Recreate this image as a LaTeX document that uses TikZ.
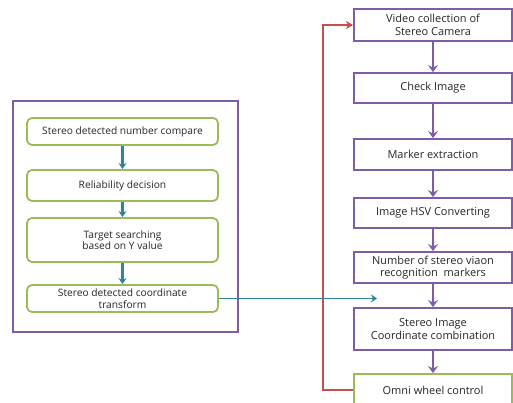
\documentclass[tikz,border=0pt]{standalone}
\usepackage{fontspec}
\setmainfont{Open Sans}
\usetikzlibrary{arrows.meta,positioning}
\definecolor{vio}{HTML}{7E5CA8}
\definecolor{lgreen}{HTML}{9BBB59}
\definecolor{tealb}{HTML}{31849B}
\definecolor{redl}{HTML}{C4504D}

\begin{document}
\begin{tikzpicture}[x=1pt, y=-1pt,
  pb/.style={draw=vio, line width=1.8pt, minimum width=158pt, align=center, inner sep=1pt, text=black!85, font=\fontsize{11}{12.5}\selectfont},
  gb/.style={draw=lgreen, line width=1.8pt, rounded corners=5pt, minimum width=191pt, align=center, inner sep=1pt, text=black!85, font=\fontsize{10.2}{11.5}\selectfont},
  parr/.style={-{Stealth[length=7pt, width=10pt, inset=2.5pt]}, draw=vio, line width=2pt},
  tarr/.style={-{Stealth[length=6pt, width=8pt]}, draw=tealb, line width=2.2pt},
  rarr/.style={-{Stealth[length=7pt, width=8pt, inset=2pt]}, draw=redl, line width=1.8pt}
]
\useasboundingbox (0,0) rectangle (513,402);
\clip (0,0) rectangle (513,402);

% left panel
\node[draw=vio, line width=1.8pt, minimum width=225pt, minimum height=231pt] (panel) at (125.5,216.5) {};
\node[gb, minimum height=27pt] (cmp) at (122.5,131.5) {Stereo detected number compare};
\node[gb, minimum height=31pt] (rel) at (122.5,185.5) {Reliability decision};
\node[gb, minimum height=44pt] (tgt) at (122.5,240) {Target searching\\based on Y value};
\node[gb, minimum height=27pt] (trf) at (122.5,298.5) {Stereo detected coordinate\\transform};

% right column
\node[pb, minimum height=32pt] (video) at (433,25) {Video collection of\\Stereo Camera};
\node[pb, minimum height=30pt] (check) at (433,88) {Check Image};
\node[pb, minimum height=31pt] (marker) at (433,154.5) {Marker extraction};
\node[pb, minimum height=30pt] (hsv) at (433,213) {Image HSV Converting};
\node[pb, minimum height=31pt] (num) at (433,267.5) {Number of stereo viaon\\recognition\ \ markers};
\node[pb, minimum height=42pt] (comb) at (433,329) {Stereo Image\\Coordinate combination};
\node[pb, draw=lgreen, minimum height=32pt] (omni) at (433,390) {Omni wheel control};

\draw[tarr] (cmp) -- (rel);
\draw[tarr] (rel) -- (tgt);
\draw[tarr] (tgt) -- (trf);

\draw[parr] (video) -- (check);
\draw[parr] (check) -- (marker);
\draw[parr] (marker) -- (hsv);
\draw[parr] (hsv) -- (num);
\draw[parr] (num) -- (comb);
\draw[parr] (comb) -- (omni);

% feedback loop
\draw[rarr] (omni.west) -- ++(-30,0) |- (video.west);

\coordinate (hit) at (377,298.5);
\draw[tarr, line width=1.6pt] (trf.east) -- (hit);
\end{tikzpicture}
\end{document}
